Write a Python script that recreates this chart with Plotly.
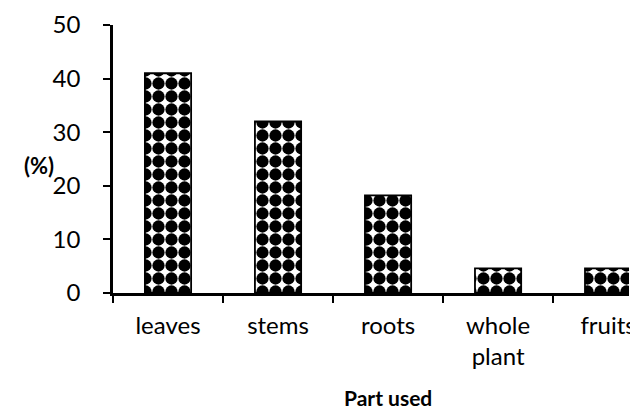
import plotly.graph_objects as go

categories = ["leaves", "stems", "roots", "whole<br>plant", "fruits"]
values = [41, 32, 18.2, 4.6, 4.6]
y_ticks = [0, 10, 20, 30, 40, 50]

# page has an 8px body margin; figure drawn at (8, 8)
OFF = 8
W, H = 630, 403
ml, mt = 113 - OFF, 25 - OFF
mr = W - (629 - OFF)
mb = H - (293 - OFF)
pw, ph = W - ml - mr, H - mt - mb

fig = go.Figure()
fig.add_trace(go.Bar(
    x=categories, y=values,
    marker=dict(
        color="white",
        line=dict(color="black", width=1.8),
        pattern=dict(shape=".", fgcolor="black", bgcolor="white",
                     size=13, solidity=0.7, fillmode="replace"),
    ),
    width=0.42,
))

font = "Lato, 'Open Sans', sans-serif"
fig.update_layout(
    template="none",
    width=W, height=H,
    autosize=False,
    margin=dict(l=ml, r=mr, t=mt, b=mb, pad=0, autoexpand=False),
    paper_bgcolor="white", plot_bgcolor="white",
    showlegend=False,
    font=dict(family=font, size=24, color="black"),
    xaxis=dict(
        range=[-0.5, 4.19], automargin=False,
        showline=True, linecolor="black", linewidth=2.5,
        ticks="outside", ticklen=7, tickwidth=2, tickcolor="black",
        tickson="boundaries", showgrid=False, zeroline=False,
        tickfont=dict(size=24),
        ticklabelstandoff=9,
        fixedrange=True,
    ),
    yaxis=dict(
        range=[0, 50], tickvals=y_ticks, automargin=False,
        showline=True, linecolor="black", linewidth=2.5,
        ticks="outside", ticklen=7, tickwidth=2, tickcolor="black",
        showgrid=False, zeroline=False,
        tickfont=dict(size=24),
        ticklabelstandoff=18,
    ),
    annotations=[
        dict(text="<b>(%)</b>", xref="paper", yref="paper",
             x=-(113 - 39) / pw, y=(293 - 165) / ph,
             xanchor="center", yanchor="middle", showarrow=False,
             font=dict(size=22)),
        dict(text="<b>Part used</b>", xref="paper", yref="paper",
             x=(388 - 113) / pw, y=-(397 - 293) / ph,
             xanchor="center", yanchor="middle", showarrow=False,
             font=dict(size=21)),
    ],
    shapes=[
        dict(type="rect", xref="paper", yref="paper",
             x0=1.0 + 1 / pw, x1=1.2, y0=-0.6, y1=1.2,
             fillcolor="white", line=dict(width=0), layer="above"),
    ],
)

fig.write_html("out.html")
